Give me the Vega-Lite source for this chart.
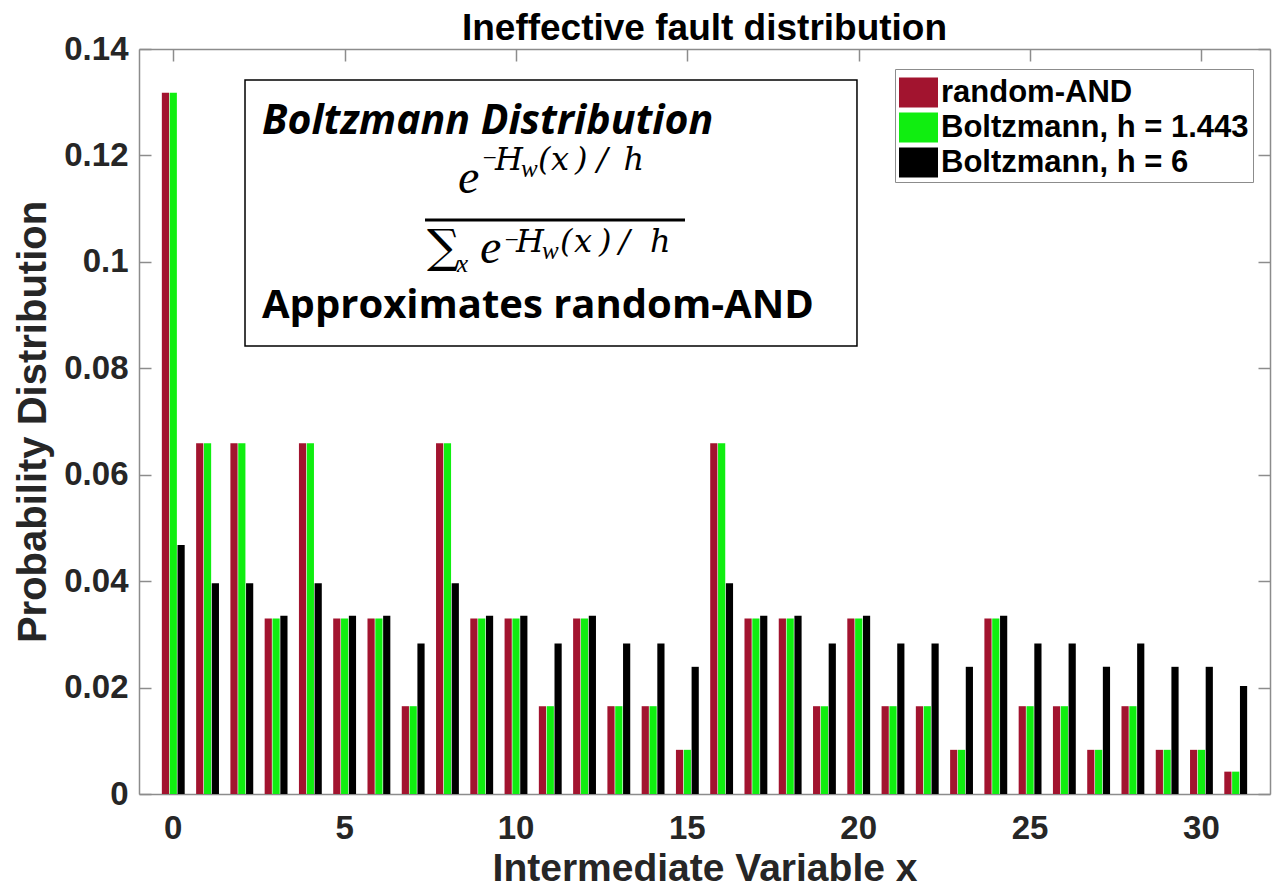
{
  "$schema": "https://vega.github.io/schema/vega-lite/v6.json",
  "width": 1131,
  "height": 745,
  "autosize": {"type": "none"},
  "padding": {"left": 139, "top": 49, "right": 11, "bottom": 95},
  "background": "white",
  "title": {
    "text": "Ineffective fault distribution",
    "font": "Liberation Sans",
    "fontSize": 37,
    "fontWeight": "bold",
    "color": "#000000",
    "anchor": "middle",
    "offset": -15
  },
  "config": {
    "view": {"stroke": null},
    "axis": {
      "grid": false,
      "labelFont": "Liberation Sans",
      "labelFontSize": 33,
      "labelFontWeight": "bold",
      "labelColor": "#262626",
      "titleFont": "Liberation Sans",
      "titleFontSize": 38,
      "titleFontWeight": "bold",
      "titleColor": "#262626",
      "domainColor": "#8c8c8c",
      "domainWidth": 1.5,
      "tickColor": "#8c8c8c",
      "tickWidth": 1.5,
      "tickSize": -12
    }
  },
  "datasets": {
    "dist": [
      {"x": 0, "series": "random-AND", "p": 0.1318}, {"x": 0, "series": "Boltzmann, h = 1.443", "p": 0.1318}, {"x": 0, "series": "Boltzmann, h = 6", "p": 0.0468},
      {"x": 1, "series": "random-AND", "p": 0.0659}, {"x": 1, "series": "Boltzmann, h = 1.443", "p": 0.0659}, {"x": 1, "series": "Boltzmann, h = 6", "p": 0.0396},
      {"x": 2, "series": "random-AND", "p": 0.0659}, {"x": 2, "series": "Boltzmann, h = 1.443", "p": 0.0659}, {"x": 2, "series": "Boltzmann, h = 6", "p": 0.0396},
      {"x": 3, "series": "random-AND", "p": 0.033}, {"x": 3, "series": "Boltzmann, h = 1.443", "p": 0.033}, {"x": 3, "series": "Boltzmann, h = 6", "p": 0.0335},
      {"x": 4, "series": "random-AND", "p": 0.0659}, {"x": 4, "series": "Boltzmann, h = 1.443", "p": 0.0659}, {"x": 4, "series": "Boltzmann, h = 6", "p": 0.0396},
      {"x": 5, "series": "random-AND", "p": 0.033}, {"x": 5, "series": "Boltzmann, h = 1.443", "p": 0.033}, {"x": 5, "series": "Boltzmann, h = 6", "p": 0.0335},
      {"x": 6, "series": "random-AND", "p": 0.033}, {"x": 6, "series": "Boltzmann, h = 1.443", "p": 0.033}, {"x": 6, "series": "Boltzmann, h = 6", "p": 0.0335},
      {"x": 7, "series": "random-AND", "p": 0.0165}, {"x": 7, "series": "Boltzmann, h = 1.443", "p": 0.0165}, {"x": 7, "series": "Boltzmann, h = 6", "p": 0.0283},
      {"x": 8, "series": "random-AND", "p": 0.0659}, {"x": 8, "series": "Boltzmann, h = 1.443", "p": 0.0659}, {"x": 8, "series": "Boltzmann, h = 6", "p": 0.0396},
      {"x": 9, "series": "random-AND", "p": 0.033}, {"x": 9, "series": "Boltzmann, h = 1.443", "p": 0.033}, {"x": 9, "series": "Boltzmann, h = 6", "p": 0.0335},
      {"x": 10, "series": "random-AND", "p": 0.033}, {"x": 10, "series": "Boltzmann, h = 1.443", "p": 0.033}, {"x": 10, "series": "Boltzmann, h = 6", "p": 0.0335},
      {"x": 11, "series": "random-AND", "p": 0.0165}, {"x": 11, "series": "Boltzmann, h = 1.443", "p": 0.0165}, {"x": 11, "series": "Boltzmann, h = 6", "p": 0.0283},
      {"x": 12, "series": "random-AND", "p": 0.033}, {"x": 12, "series": "Boltzmann, h = 1.443", "p": 0.033}, {"x": 12, "series": "Boltzmann, h = 6", "p": 0.0335},
      {"x": 13, "series": "random-AND", "p": 0.0165}, {"x": 13, "series": "Boltzmann, h = 1.443", "p": 0.0165}, {"x": 13, "series": "Boltzmann, h = 6", "p": 0.0283},
      {"x": 14, "series": "random-AND", "p": 0.0165}, {"x": 14, "series": "Boltzmann, h = 1.443", "p": 0.0165}, {"x": 14, "series": "Boltzmann, h = 6", "p": 0.0283},
      {"x": 15, "series": "random-AND", "p": 0.0083}, {"x": 15, "series": "Boltzmann, h = 1.443", "p": 0.0083}, {"x": 15, "series": "Boltzmann, h = 6", "p": 0.0239},
      {"x": 16, "series": "random-AND", "p": 0.0659}, {"x": 16, "series": "Boltzmann, h = 1.443", "p": 0.0659}, {"x": 16, "series": "Boltzmann, h = 6", "p": 0.0396},
      {"x": 17, "series": "random-AND", "p": 0.033}, {"x": 17, "series": "Boltzmann, h = 1.443", "p": 0.033}, {"x": 17, "series": "Boltzmann, h = 6", "p": 0.0335},
      {"x": 18, "series": "random-AND", "p": 0.033}, {"x": 18, "series": "Boltzmann, h = 1.443", "p": 0.033}, {"x": 18, "series": "Boltzmann, h = 6", "p": 0.0335},
      {"x": 19, "series": "random-AND", "p": 0.0165}, {"x": 19, "series": "Boltzmann, h = 1.443", "p": 0.0165}, {"x": 19, "series": "Boltzmann, h = 6", "p": 0.0283},
      {"x": 20, "series": "random-AND", "p": 0.033}, {"x": 20, "series": "Boltzmann, h = 1.443", "p": 0.033}, {"x": 20, "series": "Boltzmann, h = 6", "p": 0.0335},
      {"x": 21, "series": "random-AND", "p": 0.0165}, {"x": 21, "series": "Boltzmann, h = 1.443", "p": 0.0165}, {"x": 21, "series": "Boltzmann, h = 6", "p": 0.0283},
      {"x": 22, "series": "random-AND", "p": 0.0165}, {"x": 22, "series": "Boltzmann, h = 1.443", "p": 0.0165}, {"x": 22, "series": "Boltzmann, h = 6", "p": 0.0283},
      {"x": 23, "series": "random-AND", "p": 0.0083}, {"x": 23, "series": "Boltzmann, h = 1.443", "p": 0.0083}, {"x": 23, "series": "Boltzmann, h = 6", "p": 0.0239},
      {"x": 24, "series": "random-AND", "p": 0.033}, {"x": 24, "series": "Boltzmann, h = 1.443", "p": 0.033}, {"x": 24, "series": "Boltzmann, h = 6", "p": 0.0335},
      {"x": 25, "series": "random-AND", "p": 0.0165}, {"x": 25, "series": "Boltzmann, h = 1.443", "p": 0.0165}, {"x": 25, "series": "Boltzmann, h = 6", "p": 0.0283},
      {"x": 26, "series": "random-AND", "p": 0.0165}, {"x": 26, "series": "Boltzmann, h = 1.443", "p": 0.0165}, {"x": 26, "series": "Boltzmann, h = 6", "p": 0.0283},
      {"x": 27, "series": "random-AND", "p": 0.0083}, {"x": 27, "series": "Boltzmann, h = 1.443", "p": 0.0083}, {"x": 27, "series": "Boltzmann, h = 6", "p": 0.0239},
      {"x": 28, "series": "random-AND", "p": 0.0165}, {"x": 28, "series": "Boltzmann, h = 1.443", "p": 0.0165}, {"x": 28, "series": "Boltzmann, h = 6", "p": 0.0283},
      {"x": 29, "series": "random-AND", "p": 0.0083}, {"x": 29, "series": "Boltzmann, h = 1.443", "p": 0.0083}, {"x": 29, "series": "Boltzmann, h = 6", "p": 0.0239},
      {"x": 30, "series": "random-AND", "p": 0.0083}, {"x": 30, "series": "Boltzmann, h = 1.443", "p": 0.0083}, {"x": 30, "series": "Boltzmann, h = 6", "p": 0.0239},
      {"x": 31, "series": "random-AND", "p": 0.0042}, {"x": 31, "series": "Boltzmann, h = 1.443", "p": 0.0042}, {"x": 31, "series": "Boltzmann, h = 6", "p": 0.0203}
    ],
    "box": [{"x0": 2.093, "x1": 19.949, "y0": 0.08419, "y1": 0.13417}],
    "heading": [{"t": "Boltzmann Distribution", "x": 2.589, "y": 0.12403}],
    "note": [{"t": "Approximates random-AND", "x": 2.589, "y": 0.08945}],
    "base": [{"t": "e", "x": 8.308, "y": 0.11294}, {"t": "e", "x": 8.949, "y": 0.09978}],
    "sum": [{"t": "∑", "x": 7.403, "y": 0.09997}],
    "sup": [
      {"t": "H", "x": 9.387, "y": 0.11726},
      {"t": "(", "x": 10.642, "y": 0.11726}, {"t": "x", "x": 11.021, "y": 0.11726},
      {"t": ")", "x": 11.721, "y": 0.11726}, {"t": "/", "x": 12.363, "y": 0.11726},
      {"t": "h", "x": 13.137, "y": 0.11726},
      {"t": "H", "x": 10.0, "y": 0.10185},
      {"t": "(", "x": 11.284, "y": 0.10185}, {"t": "x", "x": 11.692, "y": 0.10185},
      {"t": ")", "x": 12.422, "y": 0.10185}, {"t": "/", "x": 13.005, "y": 0.10185},
      {"t": "h", "x": 13.91, "y": 0.10185}
    ],
    "small": [
      {"t": "−", "x": 8.98, "y": 0.11801},
      {"t": "−", "x": 9.62, "y": 0.10260},
      {"t": "w", "x": 10.146, "y": 0.11595},
      {"t": "w", "x": 10.759, "y": 0.10054},
      {"t": "x", "x": 8.278, "y": 0.09809}
    ],
    "bar": [{"x0": 7.345, "x1": 14.931, "y": 0.10787}]
  },
  "layer": [
    {
      "data": {"name": "dist"},
      "mark": {"type": "bar"},
      "encoding": {
        "x": {
          "field": "x",
          "type": "ordinal",
          "scale": {"paddingInner": 0.3333, "paddingOuter": 0.6667},
          "axis": {
            "orient": "bottom",
            "title": "Intermediate Variable x",
            "titleFontSize": 39,
            "values": [0, 5, 10, 15, 20, 25, 30],
            "labelAngle": 0,
            "labelPadding": 30,
            "titlePadding": 4
          }
        },
        "xOffset": {
          "field": "series",
          "type": "nominal",
          "sort": ["random-AND", "Boltzmann, h = 1.443", "Boltzmann, h = 6"],
          "scale": {"paddingInner": 0.08, "paddingOuter": 0}
        },
        "y": {
          "field": "p",
          "type": "quantitative",
          "scale": {"domain": [0, 0.14], "nice": false},
          "axis": {
            "orient": "left",
            "title": "Probability Distribution",
            "titleFontSize": 40,
            "values": [0, 0.02, 0.04, 0.06, 0.08, 0.1, 0.12, 0.14],
            "format": "~g",
            "labelPadding": 23,
            "titlePadding": 10
          }
        },
        "color": {
          "field": "series",
          "type": "nominal",
          "scale": {
            "domain": ["random-AND", "Boltzmann, h = 1.443", "Boltzmann, h = 6"],
            "range": ["#a2142f", "#10ee10", "#000000"]
          },
          "legend": {
            "orient": "none",
            "legendX": 756,
            "legendY": 20,
            "title": null,
            "symbolType": "M-1,-0.77H1V0.77H-1Z",
            "symbolSize": 1521,
            "symbolStrokeWidth": 0,
            "symbolOpacity": 1,
            "labelFont": "Liberation Sans",
            "labelFontSize": 31,
            "labelFontWeight": "bold",
            "labelColor": "#000000",
            "labelOffset": 3,
            "labelLimit": 400,
            "padding": 4,
            "rowPadding": -2,
            "strokeColor": "#8c8c8c",
            "fillColor": "white"
          }
        }
      }
    },
    {
      "data": {"name": "box"},
      "mark": {"type": "rect", "fill": "white", "stroke": "#000000", "strokeWidth": 1.5},
      "encoding": {
        "x": {
          "field": "x0",
          "type": "quantitative",
          "scale": {"domain": [-1, 32], "nice": false, "zero": false},
          "axis": {"orient": "top", "values": [0, 5, 10, 15, 20, 25, 30], "labels": false, "title": null}
        },
        "x2": {"field": "x1"},
        "y": {
          "field": "y0",
          "type": "quantitative",
          "axis": {"orient": "right", "values": [0, 0.02, 0.04, 0.06, 0.08, 0.1, 0.12, 0.14], "labels": false, "title": null}
        },
        "y2": {"field": "y1"}
      }
    },
    {
      "data": {"name": "heading"},
      "mark": {"type": "text", "font": "Open Sans", "fontSize": 41, "fontWeight": "bold", "fontStyle": "italic", "align": "left", "baseline": "alphabetic", "color": "#000000"},
      "encoding": {
        "x": {"field": "x", "type": "quantitative", "scale": {"domain": [-1, 32], "nice": false, "zero": false}, "axis": null},
        "y": {"field": "y", "type": "quantitative", "axis": null},
        "text": {"field": "t"}
      }
    },
    {
      "data": {"name": "note"},
      "mark": {"type": "text", "font": "Open Sans", "fontSize": 40, "fontWeight": "bold", "align": "left", "baseline": "alphabetic", "color": "#000000"},
      "encoding": {
        "x": {"field": "x", "type": "quantitative", "scale": {"domain": [-1, 32], "nice": false, "zero": false}, "axis": null},
        "y": {"field": "y", "type": "quantitative", "axis": null},
        "text": {"field": "t"}
      }
    },
    {
      "data": {"name": "base"},
      "mark": {"type": "text", "font": "Liberation Serif", "fontSize": 48, "fontStyle": "italic", "align": "left", "baseline": "alphabetic", "color": "#000000"},
      "encoding": {
        "x": {"field": "x", "type": "quantitative", "scale": {"domain": [-1, 32], "nice": false, "zero": false}, "axis": null},
        "y": {"field": "y", "type": "quantitative", "axis": null},
        "text": {"field": "t"}
      }
    },
    {
      "data": {"name": "sum"},
      "mark": {"type": "text", "font": "DejaVu Serif", "fontSize": 46, "align": "left", "baseline": "alphabetic", "color": "#000000"},
      "encoding": {
        "x": {"field": "x", "type": "quantitative", "scale": {"domain": [-1, 32], "nice": false, "zero": false}, "axis": null},
        "y": {"field": "y", "type": "quantitative", "axis": null},
        "text": {"field": "t"}
      }
    },
    {
      "data": {"name": "sup"},
      "mark": {"type": "text", "font": "DejaVu Serif", "fontSize": 32, "fontStyle": "italic", "align": "left", "baseline": "alphabetic", "color": "#000000"},
      "encoding": {
        "x": {"field": "x", "type": "quantitative", "scale": {"domain": [-1, 32], "nice": false, "zero": false}, "axis": null},
        "y": {"field": "y", "type": "quantitative", "axis": null},
        "text": {"field": "t"}
      }
    },
    {
      "data": {"name": "small"},
      "mark": {"type": "text", "font": "Liberation Serif", "fontSize": 25, "fontStyle": "italic", "align": "left", "baseline": "alphabetic", "color": "#000000"},
      "encoding": {
        "x": {"field": "x", "type": "quantitative", "scale": {"domain": [-1, 32], "nice": false, "zero": false}, "axis": null},
        "y": {"field": "y", "type": "quantitative", "axis": null},
        "text": {"field": "t"}
      }
    },
    {
      "data": {"name": "bar"},
      "mark": {"type": "rule", "strokeWidth": 3, "color": "#000000"},
      "encoding": {
        "x": {"field": "x0", "type": "quantitative", "scale": {"domain": [-1, 32], "nice": false, "zero": false}, "axis": null},
        "x2": {"field": "x1"},
        "y": {"field": "y", "type": "quantitative", "axis": null}
      }
    }
  ],
  "resolve": {"scale": {"x": "independent"}}
}
